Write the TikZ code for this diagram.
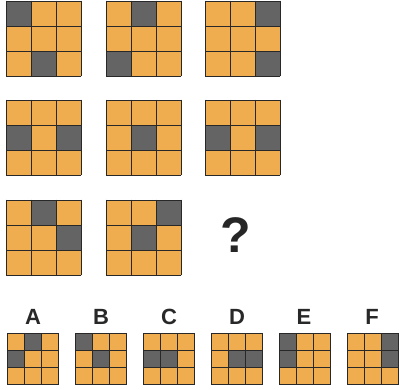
\documentclass[tikz,border=0pt]{standalone}
\usepackage{fontspec}
\setmainfont{Liberation Sans}
\usetikzlibrary{positioning}
\definecolor{tileorange}{RGB}{239,173,80}
\definecolor{tilegray}{RGB}{100,100,100}
\definecolor{tileline}{RGB}{40,40,40}

% 3x3 grid: x, y (top left), cell size, dark cells as col/row
\newcommand{\pzgrid}[4]{%
  \fill[tileorange] (#1,#2) rectangle ++(3*#3,3*#3);
  \foreach \c/\r in {#4}
    \fill[tilegray] ({#1+\c*#3},{#2+\r*#3}) rectangle ++(#3,#3);
  \foreach \k in {0,...,3} {
    \draw[gridline] ({#1+\k*#3},#2) -- ++(0,3*#3);
    \draw[gridline] (#1,{#2+\k*#3}) -- ++(3*#3,0);
  }%
}

\begin{document}
\begin{tikzpicture}[
      x=1pt,y=-1pt,
      gridline/.style={draw=tileline,line width=0.9pt,line cap=rect},
      letter/.style={anchor=base,font=\bfseries\fontsize{22}{24}\selectfont,text=tileline,inner sep=0pt},
      qmark/.style={anchor=base,font=\bfseries\fontsize{50}{52}\selectfont,text=black!85,inner sep=0pt}
    ]
      \useasboundingbox (0,0) rectangle (399,390);
      % the matrix
      \pzgrid{6}{1}{25}{0/0,1/2}
      \pzgrid{106}{1}{25}{1/0,0/2}
      \pzgrid{205}{1}{25}{2/0,2/2}
      \pzgrid{6}{100}{25}{0/1,2/1}
      \pzgrid{106}{100}{25}{1/1}
      \pzgrid{205}{100}{25}{0/1,2/1}
      \pzgrid{6}{200}{25}{1/0,2/1}
      \pzgrid{106}{200}{25}{2/0,1/1}
      \node[qmark] (ask) at (236,253) {?};
      % the answers
      \pzgrid{7}{333}{17.3}{1/0,0/1}
      \pzgrid{75}{333}{17.3}{0/0,1/1}
      \pzgrid{143}{333}{17.3}{0/1,1/1}
      \pzgrid{211}{333}{17.3}{1/1,2/1}
      \pzgrid{279}{333}{17.3}{0/0,0/1}
      \pzgrid{347}{333}{17.3}{2/0,2/1}
      \node[letter] (optA) at (33,324) {A};
      \node[letter] (optB) at (101,324) {B};
      \node[letter] (optC) at (169,324) {C};
      \node[letter] (optD) at (237,324) {D};
      \node[letter] (optE) at (304,324) {E};
      \node[letter] (optF) at (372,324) {F};
    \end{tikzpicture}
\end{document}
